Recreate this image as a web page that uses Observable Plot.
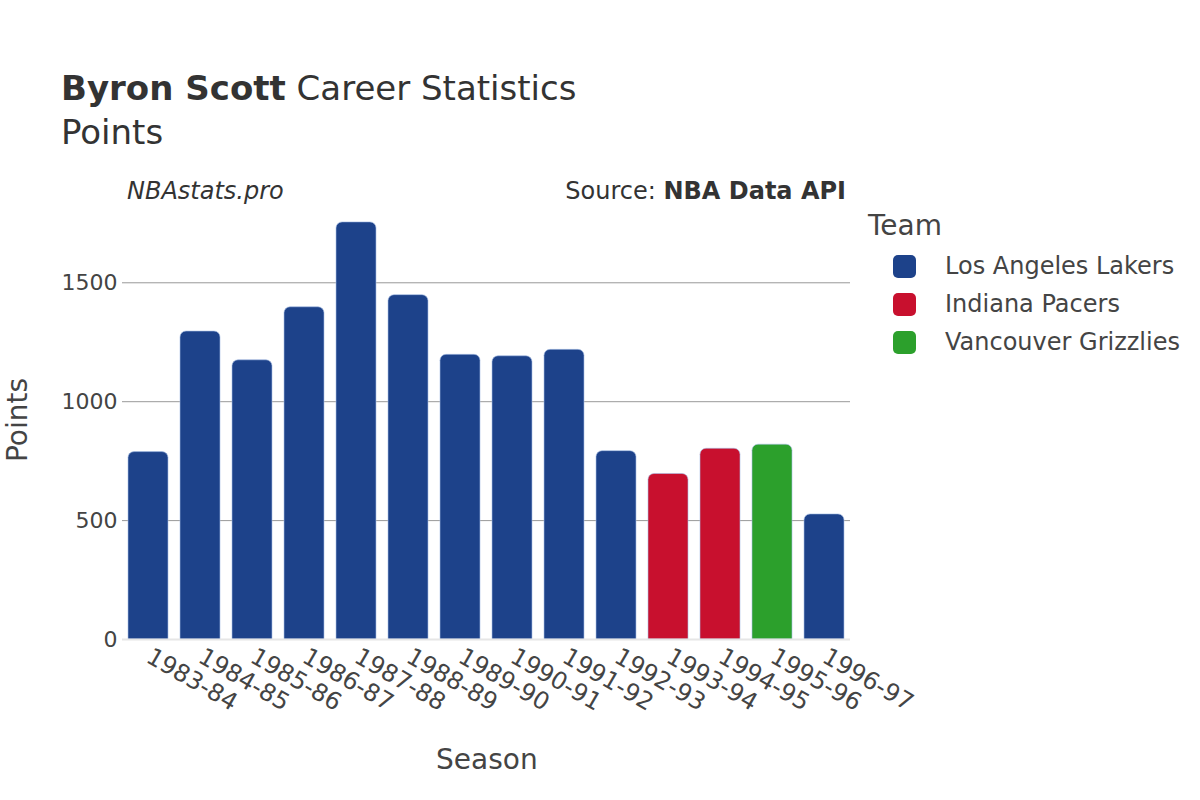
<!DOCTYPE html>
<html>
<head>
<meta charset="utf-8">
<script src="https://cdn.jsdelivr.net/npm/d3@7"></script>
<script src="https://cdn.jsdelivr.net/npm/@observablehq/plot@0.6"></script>
<style>
  html, body { margin: 0; padding: 0; background: #fff; }
  body { width: 1200px; height: 800px; position: relative; overflow: hidden; font-family: "DejaVu Sans", sans-serif; color: #444; }
  .abs { position: absolute; white-space: nowrap; }
  #chart { position: absolute; left: 0; top: 0; }
  .sw { position: absolute; width: 23px; height: 23px; border-radius: 5px; }
</style>
</head>
<body>
<div id="chart"></div>
<div class="abs" style="left:61px; top:68px; font-size:34px; color:#333;"><b>Byron Scott</b> Career Statistics</div>
<div class="abs" style="left:61px; top:112px; font-size:34px; color:#333;">Points</div>
<div class="abs" style="left:127px; top:177px; font-size:24px; font-style:italic; color:#333;">NBAstats.pro</div>
<div class="abs" style="right:354px; top:177px; font-size:24px; color:#333;">Source: <b>NBA Data API</b></div>
<div class="abs" style="left:436px; top:743px; font-size:28px; color:#444;">Season</div>
<div class="abs" style="left:17px; top:420px; font-size:28px; color:#444; transform: translate(-50%, -50%) rotate(-90deg);">Points</div>
<div id="legend"></div>
<script>
const seasons = ["1983-84","1984-85","1985-86","1986-87","1987-88","1988-89","1989-90","1990-91","1991-92","1992-93","1993-94","1994-95","1995-96","1996-97"];
const teams = ["Los Angeles Lakers","Los Angeles Lakers","Los Angeles Lakers","Los Angeles Lakers","Los Angeles Lakers","Los Angeles Lakers","Los Angeles Lakers","Los Angeles Lakers","Los Angeles Lakers","Los Angeles Lakers","Indiana Pacers","Indiana Pacers","Vancouver Grizzlies","Los Angeles Lakers"];
const points = [788, 1295, 1174, 1397, 1754, 1448, 1197, 1191, 1218, 792, 696, 802, 819, 526];
const teamNames = ["Los Angeles Lakers","Indiana Pacers","Vancouver Grizzlies"];
const teamColors = ["#1d428a","#c8102e","#2ca02c"];
const yTicks = [0, 500, 1000, 1500];

const data = seasons.map((s, i) => ({season: s, team: teams[i], points: points[i]}));

const chart = Plot.plot({
  width: 1200,
  height: 800,
  marginLeft: 122,
  marginRight: 350,
  marginTop: 200,
  marginBottom: 161,
  style: {fontFamily: "DejaVu Sans, sans-serif", fontSize: "22px", color: "#444", background: "transparent", overflow: "visible"},
  x: {domain: seasons, paddingInner: 0.23, paddingOuter: 0.115, label: null},
  y: {domain: [0, 1846], label: null},
  color: {domain: teamNames, range: teamColors},
  marks: [
    Plot.gridY([500, 1000, 1500], {stroke: "#999", strokeOpacity: 1, strokeWidth: 1}),
    Plot.barY(data, {x: "season", y: "points", fill: "team", stroke: "#a9bfe6", strokeOpacity: 0.6, strokeWidth: 1, ry1: 6}),
    Plot.ruleY([0], {stroke: "#e6e6e6", strokeWidth: 2}),
    Plot.axisY(yTicks, {tickSize: 0, tickPadding: 5, tickFormat: d => String(d), fontSize: 22, label: null}),
    Plot.axisX({tickSize: 0, tickPadding: 15, tickRotate: 30, fontSize: 24, label: null})
  ]
});
document.getElementById("chart").appendChild(chart);

// Legend
const legend = document.getElementById("legend");
const title = document.createElement("div");
title.className = "abs";
title.style.cssText = "left:868px; top:209px; font-size:28px; color:#444;";
title.textContent = "Team";
legend.appendChild(title);
teamNames.forEach((name, i) => {
  const y = 266 + i * 38;
  const sw = document.createElement("div");
  sw.className = "sw";
  sw.style.left = "893px";
  sw.style.top = (y - 11.5) + "px";
  sw.style.background = teamColors[i];
  legend.appendChild(sw);
  const t = document.createElement("div");
  t.className = "abs";
  t.style.cssText = `left:945px; top:${y - 14}px; font-size:24px; color:#444;`;
  t.textContent = name;
  legend.appendChild(t);
});
</script>
</body>
</html>
